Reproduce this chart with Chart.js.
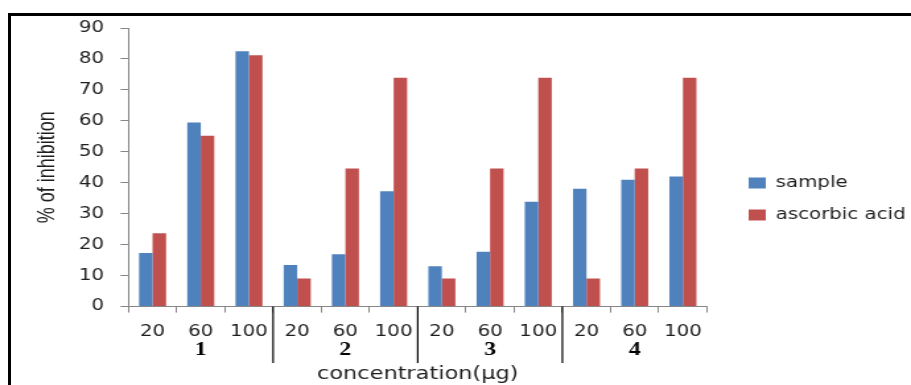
<!DOCTYPE html>
<html>
<head>
<meta charset="utf-8">
<script src="https://cdn.jsdelivr.net/npm/chart.js@4"></script>
<style>
  html, body { margin: 0; padding: 0; background: #fff; overflow: hidden; }
  #wrap { position: relative; width: 911px; height: 385px; }
  #c { position: absolute; left: 0; top: 0; transform: scaleX(1.3203); transform-origin: 0 0; }
  #frame {
    position: absolute; left: 8px; top: 13px; right: 0; bottom: 0;
    border-top: 3px solid #000; border-left: 3px solid #000; pointer-events: none;
  }
</style>
</head>
<body>
<div id="wrap">
  <canvas id="c" width="690" height="385"></canvas>
  <div id="frame"></div>
</div>
<script>
// concentration labels and compound groups
const concLabels = ["20", "60", "100", "20", "60", "100", "20", "60", "100", "20", "60", "100"];
const groupLabels = ["1", "2", "3", "4"];

// % of inhibition
const sampleValues = [17.3, 59.5, 82.5, 13.4, 16.9, 37.3, 13.0, 17.7, 33.9, 38.1, 41.0, 42.0];
const ascorbicValues = [23.7, 55.2, 81.2, 9.1, 44.6, 73.9, 9.1, 44.6, 73.9, 9.1, 44.6, 73.9];

const yTicks = [0, 10, 20, 30, 40, 50, 60, 70, 80, 90];

const axisGray = "#868686";
const textColor = "#1e1e1e";

// group separators and group numbers under the axis
const groupPlugin = {
  id: "groups",
  afterDraw(chart) {
    const ctx = chart.ctx;
    const x = chart.scales.x;
    const bottom = chart.chartArea.bottom;
    ctx.save();
    ctx.strokeStyle = "#000";
    ctx.lineWidth = 1.2;
    for (let g = 1; g < groupLabels.length; g++) {
      const i = g * 3;
      const px = (x.getPixelForValue(i - 1) + x.getPixelForValue(i)) / 2;
      ctx.beginPath();
      ctx.moveTo(px, bottom);
      ctx.lineTo(px, 363);
      ctx.stroke();
    }
    ctx.fillStyle = "#000";
    ctx.font = "bold 18px 'Liberation Serif'";
    ctx.textAlign = "center";
    ctx.textBaseline = "middle";
    groupLabels.forEach((lab, g) => {
      ctx.fillText(lab, x.getPixelForValue(g * 3 + 1), 350);
    });
    ctx.restore();
  },
};

new Chart(document.getElementById("c"), {
  type: "bar",
  data: {
    labels: concLabels,
    datasets: [
      {
        label: "sample",
        data: sampleValues,
        backgroundColor: "#4F81BD",
        categoryPercentage: 0.56,
        barPercentage: 1,
      },
      {
        label: "ascorbic acid",
        data: ascorbicValues,
        backgroundColor: "#C0504D",
        categoryPercentage: 0.56,
        barPercentage: 1,
      },
    ],
  },
  options: {
    responsive: false,
    animation: false,
    devicePixelRatio: 1,
    layout: { padding: { top: 28, left: 25.6, right: 0, bottom: 15 } },
    plugins: {
      legend: {
        position: "right",
        align: "center",
        maxWidth: 140,
        labels: {
          boxWidth: 13,
          boxHeight: 11,
          padding: 17,
          color: textColor,
          font: { family: "'DejaVu Sans'", size: 15 },
        },
      },
      tooltip: { enabled: false },
    },
    scales: {
      x: {
        grid: {
          display: true,
          drawOnChartArea: false,
          drawTicks: true,
          tickLength: 6,
          color: axisGray,
          offset: true,
        },
        border: { color: axisGray },
        ticks: {
          padding: 11,
          color: textColor,
          font: { family: "'DejaVu Sans'", size: 15 },
          maxRotation: 0,
          autoSkip: false,
        },
        title: {
          display: true,
          text: "concentration(µg)",
          color: textColor,
          font: { family: "'DejaVu Sans'", size: 17 },
          padding: { top: 12, bottom: -15 },
        },
      },
      y: {
        min: 0,
        max: 90,
        afterBuildTicks(scale) {
          scale.ticks = yTicks.map((v) => ({ value: v }));
        },
        grid: {
          display: true,
          drawOnChartArea: false,
          drawTicks: true,
          tickLength: 6,
          color: axisGray,
        },
        border: { color: axisGray },
        ticks: {
          padding: 12.5,
          color: textColor,
          font: { family: "'DejaVu Sans'", size: 15 },
        },
        title: {
          display: true,
          text: "% of inhibition",
          color: textColor,
          font: { family: "'Liberation Sans'", size: 18 },
          padding: { top: 0, bottom: 0 },
        },
      },
      gap: {
        position: "right",
        display: true,
        grid: { display: false },
        border: { display: false },
        ticks: { display: false },
        afterFit(scale) {
          scale.width = 14.5;
        },
      },
    },
  },
  plugins: [groupPlugin],
});
</script>
</body>
</html>
